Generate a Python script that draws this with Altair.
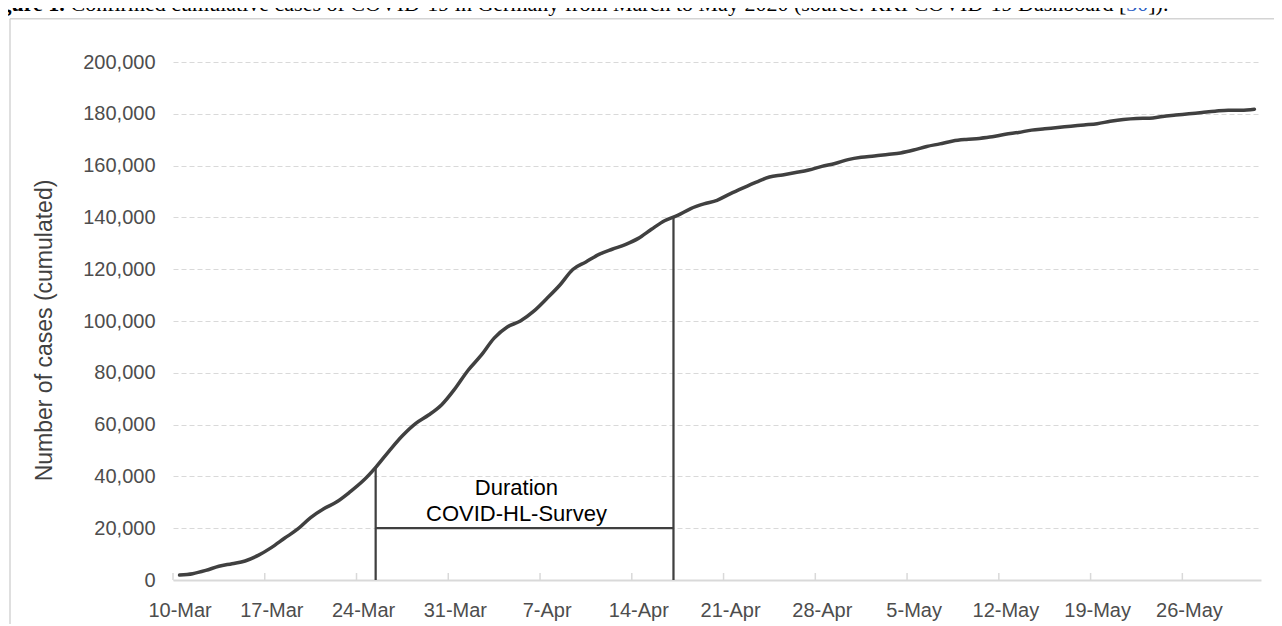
import json
import altair as alt
import pandas as pd

# ---------------- data ----------------
start_date = "2020-03-10"   # day 0 of the series (one value per day, 10-Mar .. 31-May)
cases = [
    1900, 2450, 3700, 5300, 6300, 7350, 9500, 12500, 16100, 19600,
    24100, 27500, 30200, 34000, 38300, 43700, 49900, 55700, 60400, 63700,
    67700, 73800, 80900, 86700, 93400, 97700, 100000, 103700, 108600, 113800,
    119900, 122800, 125700, 127700, 129500, 131900, 135400, 138700, 140800, 143400,
    145200, 146600, 149100, 151400, 153600, 155600, 156400, 157300, 158300, 159700,
    160800, 162300, 163200, 163700, 164300, 164900, 166000, 167400, 168400, 169500,
    170100, 170500, 171100, 172100, 172800, 173700, 174200, 174700, 175200, 175700,
    176200, 177100, 177800, 178200, 178300, 179000, 179500, 180000, 180500, 181000,
    181400, 181400, 181800,
]
tick_labels = ["10-Mar", "17-Mar", "24-Mar", "31-Mar", "7-Apr", "14-Apr",
               "21-Apr", "28-Apr", "5-May", "12-May", "19-May", "26-May"]
label_days = [0, 7, 14, 21, 28, 35, 42, 49, 56, 63, 70, 77]
tick_days = [-0.5, 6.5, 13.5, 20.5, 27.5, 34.5, 41.5, 48.5, 55.5, 62.5, 69.5, 76.5]
y_ticks = [0, 20000, 40000, 60000, 80000, 100000, 120000, 140000, 160000, 180000, 200000]

survey_days = [14.96, 37.68]          # start / end of survey (day offsets)
survey_tops = [43700, 140000]         # top of the two vertical markers
survey_level = 20000                  # level of the horizontal bar
annot_lines = ["Duration", "COVID-HL-Survey"]
annot_day = 25.7
annot_levels = [32800, 22800]

caption_bold = "Figure 1."
caption_main = "Confirmed cumulative cases of COVID-19 in Germany from March to May 2020 (source: RKI COVID-19 Dashboard ["
caption_ref = "30"
caption_end = "])."

# ---------------- chart ----------------
W, H = 1088, 518
FONT = "Liberation Sans"
GRID = "#d9d9d9"
DARK = "#404040"

df = pd.DataFrame({"day": list(range(len(cases))), "cases": cases})
df["date"] = (pd.to_datetime(start_date) + pd.to_timedelta(df["day"], unit="D")).dt.strftime("%Y-%m-%d")

x_scale = alt.Scale(domain=[-0.5, 82.5], nice=False, zero=False)
y_scale = alt.Scale(domain=[0, 200000], nice=False, zero=True)

label_expr = f"{json.dumps(tick_labels)}[round(datum.value / 7)]"

line = alt.Chart(df).mark_line(
    color=DARK, strokeWidth=3.5, interpolate="monotone", strokeCap="round", strokeJoin="round"
).encode(
    x=alt.X("day:Q", scale=x_scale, axis=alt.Axis(
        values=label_days, labelExpr=label_expr, title=None, grid=False, ticks=False,
        domainColor=GRID, domainWidth=2, labelFont=FONT, labelFontSize=20,
        labelColor="#4d4d4d", labelPadding=20, labelAngle=0, labelFlush=False,
        labelOverlap=False)),
    y=alt.Y("cases:Q", scale=y_scale, axis=alt.Axis(
        values=y_ticks, format=",.0f", title="Number of cases (cumulated)",
        grid=True, gridDash=[5, 3], gridColor=GRID, gridWidth=1,
        domain=False, ticks=False, labelPadding=18, labelFont=FONT,
        labelFontSize=20, labelColor="#4d4d4d",
        titleFont=FONT, titleFontSize=23, titleFontWeight="normal",
        titleColor=DARK, titleX=-129, titleY=268, titleBaseline="middle",
        titleAlign="center", titleAngle=270)),
)

one = pd.DataFrame({"k": [0]})

# chart-area border: only its left edge is drawn here (top edge drawn by frame_top)
frame_left = alt.Chart(one).mark_rule(color="#d4d4d4", strokeWidth=1.5).encode(
    x=alt.value(-163), y=alt.value(-43.3), y2=alt.value(700))
frame_top = alt.Chart(one).mark_rule(color="#d4d4d4", strokeWidth=1.5).encode(
    x=alt.value(-163), x2=alt.value(1101), y=alt.value(-43.3))

ticks_df = pd.DataFrame({"day": tick_days})
ticks = alt.Chart(ticks_df).mark_rule(color=GRID, strokeWidth=1.5).encode(
    x="day:Q", y=alt.value(H), y2=alt.value(H - 7))

vert_df = pd.DataFrame({"day": survey_days, "cases": [0, 0], "top": survey_tops})
verts = alt.Chart(vert_df).mark_rule(color=DARK, strokeWidth=2.25).encode(
    x="day:Q", y="cases:Q", y2="top:Q")

hor_df = pd.DataFrame({"day": [survey_days[0]], "day2": [survey_days[1]], "cases": [survey_level]})
hor = alt.Chart(hor_df).mark_rule(color=DARK, strokeWidth=2.25).encode(
    x="day:Q", x2="day2:Q", y="cases:Q")

annot_df = pd.DataFrame({"day": [annot_day] * 2, "cases": annot_levels, "label": annot_lines})
annot = alt.Chart(annot_df).mark_text(
    align="center", baseline="alphabetic", font=FONT, fontSize=22, color="#000000"
).encode(x="day:Q", y="cases:Q", text="label:N")

CAP_Y = -51.5
CAP_FS = 22
cap1 = alt.Chart(one).mark_text(
    align="right", baseline="alphabetic", font="Liberation Serif", fontSize=CAP_FS,
    fontWeight="bold", color="#000000"
).encode(x=alt.value(-108.2), y=alt.value(CAP_Y), text=alt.value(caption_bold))
cap2 = alt.Chart(one).mark_text(
    align="left", baseline="alphabetic", font="Liberation Serif", fontSize=CAP_FS, color="#000000"
).encode(x=alt.value(-102.5), y=alt.value(CAP_Y), text=alt.value(caption_main))
ref_x = -102.5 + 47.99 * CAP_FS
cap3 = alt.Chart(one).mark_text(
    align="left", baseline="alphabetic", font="Liberation Serif", fontSize=CAP_FS, color="#2a5dc4"
).encode(x=alt.value(ref_x), y=alt.value(CAP_Y), text=alt.value(caption_ref))
cap4 = alt.Chart(one).mark_text(
    align="left", baseline="alphabetic", font="Liberation Serif", fontSize=CAP_FS, color="#000000"
).encode(x=alt.value(ref_x + 1.0 * CAP_FS), y=alt.value(CAP_Y), text=alt.value(caption_end))

chart = alt.layer(line, frame_left, frame_top, ticks, verts, hor, annot,
                  cap1, cap2, cap3, cap4).properties(
    width=W, height=H,
    autosize=alt.AutoSizeParams(type="none"),
    padding={"left": 165, "top": 54, "right": 13, "bottom": 44},
).configure_view(stroke=None)

chart.save("out.html", embed_options={"renderer": "svg", "actions": False})
